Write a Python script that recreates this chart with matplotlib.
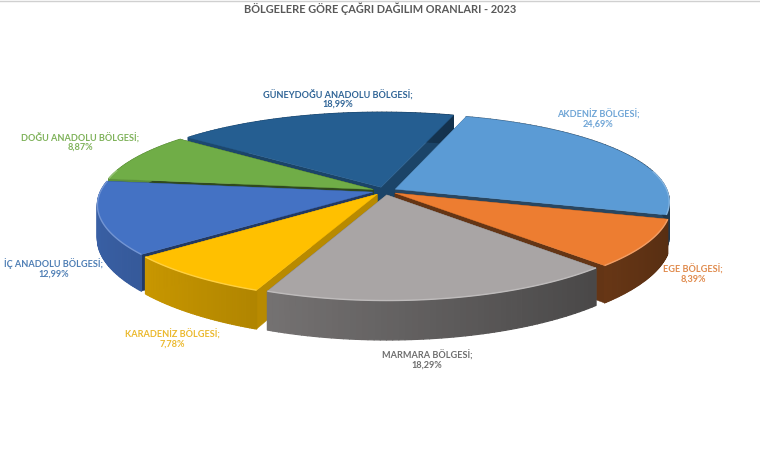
import matplotlib
matplotlib.use('Agg')
import matplotlib.pyplot as plt
from matplotlib.collections import PolyCollection
import matplotlib.colors as mcolors
import numpy as np

plt.rcParams['font.family'] = ['Lato', 'DejaVu Sans']

regions = ['AKDENİZ BÖLGESİ', 'EGE BÖLGESİ', 'MARMARA BÖLGESİ', 'KARADENİZ BÖLGESİ',
           'İÇ ANADOLU BÖLGESİ', 'DOĞU ANADOLU BÖLGESİ', 'GÜNEYDOĞU ANADOLU BÖLGESİ']
shares = [24.69, 8.39, 18.29, 7.78, 12.99, 8.87, 18.99]
colors = ['#5B9BD5', '#ED7D31', '#A9A5A5', '#FFC000', '#4472C4', '#70AD47', '#255E91']
cut_shades = [0.45, 0.42, 0.6, 0.72, 0.5, 0.42, 0.72]
label_colors = ['#6FA5D6', '#E08A4C', '#6E6E6E', '#EBB92E', '#4F7FB5', '#7FB25A', '#2F6496']
label_pos = [(598, 119), (693, 274), (427, 360), (172, 339), (54, 268), (80, 142), (338, 99)]

# pie geometry in pixels
CX, CY = 384.5, 191
RX, RY = 272, 87.8
PERSP_X, PERSP_Y = 0.137, 0.156
DEPTH = 33
EXPLODE = 0.045
START = 17.5


def project(gx, gy, z=0.0):
    sx = 1 / (1 + PERSP_X * gy)
    sy = 1 / (1 + PERSP_Y * gy)
    return CX + RX * gx * sx, CY - RY * gy * sy + DEPTH * z * sy


def shade(color, f):
    return tuple(c * f for c in mcolors.to_rgb(color))


def lighten(color, f):
    return tuple(c + (1 - c) * f for c in mcolors.to_rgb(color))


fig = plt.figure(figsize=(7.6, 4.5), dpi=100)
ax = fig.add_axes([0, 0, 1, 1])
ax.set_xlim(0, 760)
ax.set_ylim(450, 0)
ax.axis('off')
fig.patch.set_facecolor('white')

# slice angles, clockwise from north
ends = START + np.cumsum(shares) * 3.6
starts = ends - np.array(shares) * 3.6
mids = (starts + ends) / 2
order = np.argsort(-np.cos(np.radians(mids)))  # far slices first

z = 2
for i in order:
    th = np.radians(np.linspace(starts[i], ends[i], 60))
    mid = np.radians(mids[i])
    ox, oy = EXPLODE * np.sin(mid), EXPLODE * np.cos(mid)
    gx, gy = ox + np.sin(th), oy + np.cos(th)

    # cut faces
    for k in (0, -1):
        quad = [project(ox, oy), project(gx[k], gy[k]), project(gx[k], gy[k], 1), project(ox, oy, 1)]
        ax.fill(*zip(*quad), color=shade(colors[i], cut_shades[i]), lw=0.3, zorder=z)
    z += 1

    # outer wall, shaded strip by strip
    polys, cols = [], []
    for j in range(len(th) - 1):
        polys.append([project(gx[j], gy[j]), project(gx[j + 1], gy[j + 1]),
                      project(gx[j + 1], gy[j + 1], 1), project(gx[j], gy[j], 1)])
        cols.append(shade(colors[i], 0.60 - 0.24 * np.sin(th[j])))
    ax.add_collection(PolyCollection(polys, facecolors=cols, edgecolors=cols, linewidths=0.9, zorder=z))
    z += 1

    # top face
    top = [project(ox, oy)] + [project(a, b) for a, b in zip(gx, gy)]
    ax.fill(*zip(*top), color=colors[i], lw=0.3, zorder=z)
    z += 1

    # light rim on the near edge
    near = gy < 0.25
    if near.any():
        rim = [project(a, b) for a, b in zip(gx[near], gy[near])]
        ax.plot(*zip(*rim), color=lighten(colors[i], 0.25), lw=1.0, solid_capstyle='butt', zorder=z)
    z += 1

for name, val, col, (x, y) in zip(regions, shares, label_colors, label_pos):
    txt = f'{name};\n{val:.2f}%'.replace('.', ',')
    ax.text(x, y, txt, ha='center', va='center', fontsize=6.6, fontweight='bold',
            color=col, linespacing=1.05, zorder=z)

ax.text(380, 9, 'BÖLGELERE GÖRE ÇAĞRI DAĞILIM ORANLARI - 2023', ha='center', va='center',
        fontsize=7.9, fontweight='bold', color='#595959', zorder=z)

ax.plot([0, 760], [0.5, 0.5], color='#D0D0D0', lw=1)

fig.savefig('out.png', dpi=100, facecolor='white')
plt.close(fig)
